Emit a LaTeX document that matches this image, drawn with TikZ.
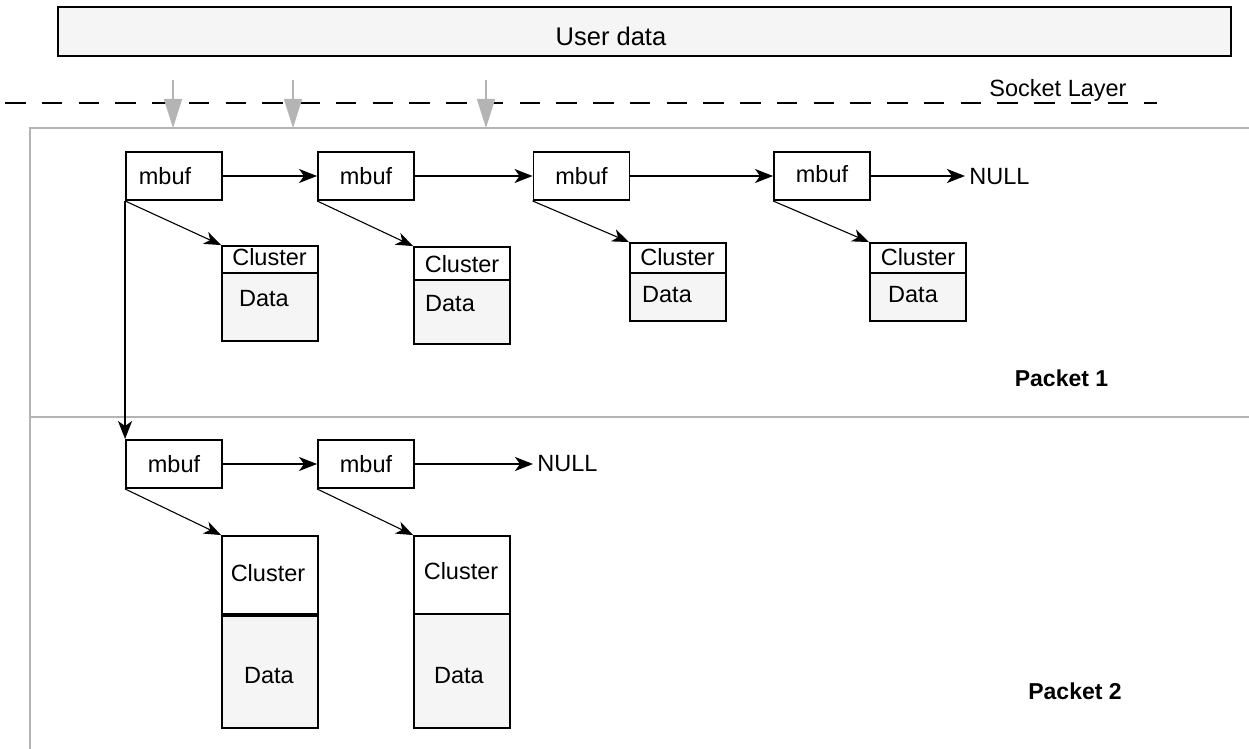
\documentclass[tikz,border=0pt]{standalone}
\usepackage{fontspec}
\setmainfont{Liberation Sans}
\usetikzlibrary{arrows.meta}
\definecolor{paper}{HTML}{F5F5F5}
\definecolor{rule}{HTML}{B4B4B4}
\begin{document}
\begin{tikzpicture}[x=0.5pt,y=-0.5pt,
  font=\fontsize{11.75}{14}\selectfont,
  mbox/.style={draw,line width=0.95pt,inner sep=0pt,minimum width=48pt,minimum height=24pt},
  clbox/.style={draw,line width=0.95pt,inner sep=0pt,minimum width=48pt},
  txt/.style={inner sep=0pt},
  link/.style={line width=0.9pt,-{Stealth[length=9pt,width=7pt,inset=2.5pt]}},
  diag/.style={line width=0.55pt,-{Stealth[length=8.5pt,width=6.5pt,inset=2.5pt]}},
  feed/.style={draw=rule,line width=0.7pt,-{Triangle[length=14.5pt,width=9pt]}},
  divider/.style={line width=0.95pt},
  label/.style={inner sep=0pt,font=\fontsize{11.5}{14}\selectfont\bfseries},
]
\useasboundingbox (0,0) rectangle (1249,749);

% user data buffer
\node[draw,line width=0.95pt,fill=paper,inner sep=0pt,minimum width=586.5pt,minimum height=24.5pt] (user) at (644.5,31.5) {};
\node[txt,font=\fontsize{12.75}{15}\selectfont] (usertext) at (611,36) {User data};

% socket layer boundary
\draw[line width=1pt,dash pattern=on 10.25pt off 8.125pt] (5,103) -- (1157,103);
\node[txt,anchor=base west] (sock) at (989,97) {Socket Layer};

% packet frames
\draw[rule,line width=0.85pt] (30,749) -- (30,128) -- (1249,128);
\draw[rule,line width=0.85pt] (30,417) -- (1249,417);

% copies from user space
\coordinate (s1) at (173,80);  \coordinate (t1) at (173,128);
\coordinate (s2) at (293,80);  \coordinate (t2) at (293,128);
\coordinate (s3) at (486,80);  \coordinate (t3) at (486,128);
\draw[feed] (s1) -- (t1);
\draw[feed] (s2) -- (t2);
\draw[feed] (s3) -- (t3);

% ---------- packet 1 ----------
\node[mbox] (a1) at (174,176) {\hspace*{-9pt}mbuf};
\node[mbox] (a2) at (366,176) {mbuf};
\node[mbox] (a3) at (581.5,176) {mbuf};
\node[mbox] (a4) at (822,176) {\raisebox{2pt}{mbuf}};
\node[txt,anchor=west,inner xsep=2pt] (null1) at (965,177) {NULL};

% clusters of packet 1
\fill[paper] (222,273) rectangle (318,341);
\node[clbox,minimum height=47.5pt] (c1) at (270,293.5) {};
\draw[divider] (222,273) -- (318,273);
\node[txt] (c1h) at (269.5,257) {Cluster};
\node[txt] (c1d) at (264,299) {Data};

\fill[paper] (414,280) rectangle (510,344);
\node[clbox,minimum height=48.5pt] (c2) at (462,295.5) {};
\draw[divider] (414,280) -- (510,280);
\node[txt] (c2h) at (462,264) {Cluster};
\node[txt] (c2d) at (450,304) {Data};

\fill[paper] (630,273) rectangle (726,321);
\node[clbox,minimum height=39pt] (c3) at (678,282) {};
\draw[divider] (630,273) -- (726,273);
\node[txt] (c3h) at (677.5,257) {Cluster};
\node[txt] (c3d) at (667,295) {Data};

\fill[paper] (870,273) rectangle (966,321);
\node[clbox,minimum height=39pt] (c4) at (918,282) {};
\draw[divider] (870,273) -- (966,273);
\node[txt] (c4h) at (918,257) {Cluster};
\node[txt] (c4d) at (913,295) {Data};

\draw[link] (a1) -- (a2);
\draw[link] (a2) -- (a3);
\draw[link] (a3) -- (a4);
\draw[link] (a4.east) -- (a4.east -| null1.west);
\draw[diag] (a1.south west) -- (c1.north west);
\draw[diag] (a2.south west) -- (c2.north west);
\draw[diag] (a3.south west) -- (c3.north west);
\draw[diag] (a4.south west) -- (c4.north west);

\node[label] (p1) at (1061.5,378.5) {Packet 1};

% ---------- packet 2 ----------
\node[mbox] (b1) at (174,464) {mbuf};
\node[mbox] (b2) at (366,464) {mbuf};
\node[txt,anchor=west,inner xsep=2pt] (null2) at (533,464) {NULL};

\fill[paper] (222,615) rectangle (318,728);
\node[clbox,minimum height=96pt] (d1) at (270,632) {};
\draw[line width=1.6pt] (222,615) -- (318,615);
\node[txt] (d1h) at (268,573) {Cluster};
\node[txt] (d1d) at (269,676) {Data};

\fill[paper] (414,614) rectangle (510,728);
\node[clbox,minimum height=96pt] (d2) at (462,632) {};
\draw[divider] (414,614) -- (510,614);
\node[txt] (d2h) at (461,571) {Cluster};
\node[txt] (d2d) at (459,676) {Data};

\draw[link] (b1) -- (b2);
\draw[link] (b2.east) -- (b2.east -| null2.west);
\draw[diag] (b1.south west) -- (d1.north west);
\draw[diag] (b2.south west) -- (d2.north west);

% next packet in the chain
\draw[link] (a1.south west) -- (b1.north west);

\node[label] (p2) at (1075,691) {Packet 2};
\end{tikzpicture}
\end{document}
